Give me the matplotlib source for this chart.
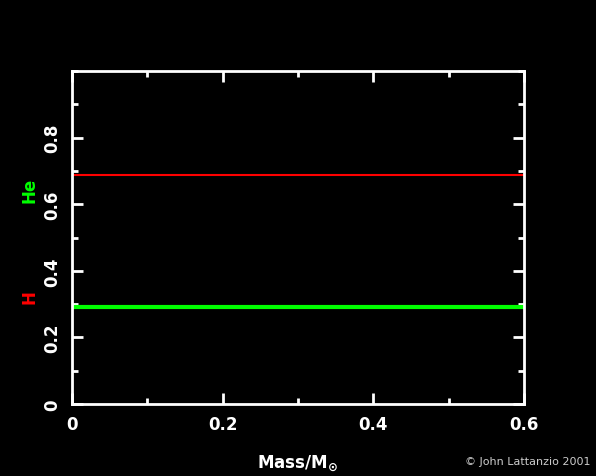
import matplotlib.pyplot as plt
from matplotlib.ticker import MultipleLocator

# composition profile
mass = [0.0, 0.6]
x_h = [0.688, 0.688]
x_he = [0.292, 0.292]

plt.rcParams['font.family'] = 'DejaVu Sans'
plt.rcParams['font.weight'] = 'bold'

fig = plt.figure(figsize=(5.96, 4.77), dpi=100, facecolor='black')
ax = fig.add_axes([0.1208, 0.1509, 0.7584, 0.6981], facecolor='black')

ax.plot(mass, x_h, color='#ff0000', lw=1.5, solid_capstyle='butt')
ax.plot(mass, x_he, color='#00ff00', lw=3, solid_capstyle='butt')

ax.set_xlim(0, 0.6)
ax.set_ylim(0, 1)
ax.xaxis.set_minor_locator(MultipleLocator(0.1))
ax.yaxis.set_minor_locator(MultipleLocator(0.1))
ax.set_xticks([0, 0.2, 0.4, 0.6])
ax.set_xticklabels(['0', '0.2', '0.4', '0.6'])
ax.set_yticks([0, 0.2, 0.4, 0.6, 0.8])
ax.set_yticklabels(['0', '0.2', '0.4', '0.6', '0.8'], rotation=90, va='center')

for s in ax.spines.values():
    s.set_color('white')
    s.set_linewidth(2)
ax.tick_params(which='both', direction='in', top=True, right=True, colors='white', labelsize=12)
ax.tick_params(which='major', length=8, width=2, pad=8)
ax.tick_params(which='minor', length=4, width=2)

ax.set_xlabel(r'Mass/M$_{\odot}$', color='white', fontsize=12, labelpad=14, fontweight='bold')

fig.text(0.05, 1 - 190 / 477, 'He', color='#00ff00', rotation=90, fontsize=12, ha='center', va='center', fontweight='bold')
fig.text(0.05, 1 - 297 / 477, 'H', color='#ff0000', rotation=90, fontsize=12, ha='center', va='center', fontweight='bold')
fig.text(0.99, 0.022, '© John Lattanzio 2001', color='#cccccc', fontsize=8, ha='right', va='bottom', fontweight='normal')

fig.savefig('out.png', dpi=100, facecolor='black')
